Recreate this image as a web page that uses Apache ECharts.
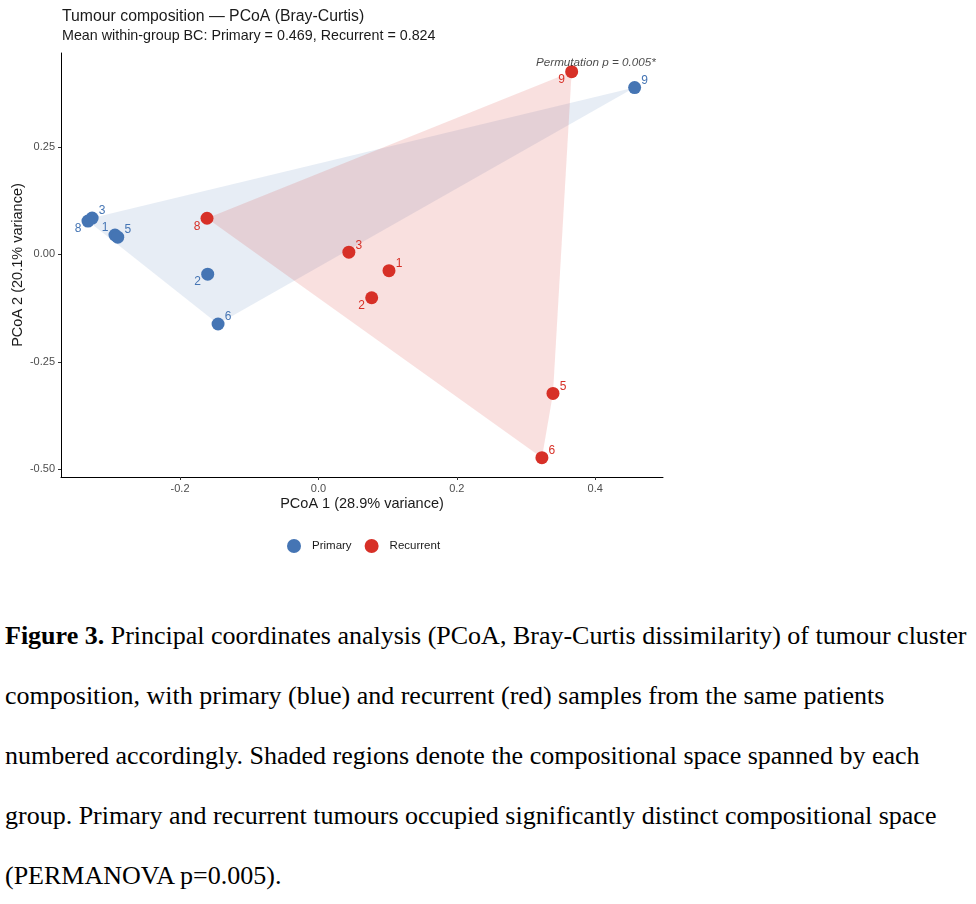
<!DOCTYPE html>
<html>
<head>
<meta charset="utf-8">
<script src="https://cdn.jsdelivr.net/npm/echarts@6/dist/echarts.min.js"></script>
<style>
  body { margin: 0; background: #fff; }
  #chart { position: absolute; left: 0; top: 0; width: 976px; height: 580px; }
  #caption {
    position: absolute; left: 5px; top: 606px; width: 970px;
    font-family: "Liberation Serif", "Times New Roman", serif;
    font-size: 26px; line-height: 60px; color: #000; white-space: nowrap;
  }
</style>
</head>
<body>
<div id="chart"></div>
<div id="caption"><b>Figure 3.</b> Principal coordinates analysis (PCoA, Bray-Curtis dissimilarity) of tumour cluster<br>composition, with primary (blue) and recurrent (red) samples from the same patients<br>numbered accordingly. Shaded regions denote the compositional space spanned by each<br>group. Primary and recurrent tumours occupied significantly distinct compositional space<br>(PERMANOVA p=0.005).</div>
<script>
// échantillons (patients) et coordonnées PCoA
const sampleIds = ["1", "2", "3", "5", "6", "8", "9"];
const primaryX = [-0.294, -0.160, -0.327, -0.290, -0.145, -0.333, 0.457];
const primaryY = [0.045, -0.046, 0.0845, 0.040, -0.162, 0.0775, 0.388];
const recurrentX = [0.102, 0.077, 0.044, 0.339, 0.323, -0.161, 0.366];
const recurrentY = [-0.038, -0.101, 0.005, -0.3235, -0.473, 0.084, 0.425];

const xTicks = [-0.2, 0.0, 0.2, 0.4];
const yTicks = [-0.5, -0.25, 0.0, 0.25];
const xTickLabels = ["-0.2", "0.0", "0.2", "0.4"];
const yTickLabels = ["-0.50", "-0.25", "0.00", "0.25"];

const permutationText = "Permutation p = 0.005*";
const permutationAt = [0.401, 0.445];

const COLORS = { Primary: "#4575b4", Recurrent: "#d73027" };
const FONT = "Liberation Sans, Arial, sans-serif";

// placement des numéros (par défaut : en haut à droite du point)
const LABEL_LOW_LEFT = { Primary: ["8", "2"], Recurrent: ["8", "2", "9"] };
const LABEL_UP_LEFT = { Primary: ["1"], Recurrent: [] };

function toPoints(xs, ys) {
  return xs.map((x, i) => [x, ys[i], sampleIds[i]]);
}

// enveloppe convexe (monotone chain)
function convexHull(pts) {
  const p = pts.map(d => [d[0], d[1]]).sort((a, b) => a[0] - b[0] || a[1] - b[1]);
  const cross = (o, a, b) => (a[0] - o[0]) * (b[1] - o[1]) - (a[1] - o[1]) * (b[0] - o[0]);
  const lower = [];
  for (const pt of p) {
    while (lower.length >= 2 && cross(lower[lower.length - 2], lower[lower.length - 1], pt) <= 0) lower.pop();
    lower.push(pt);
  }
  const upper = [];
  for (let i = p.length - 1; i >= 0; i--) {
    const pt = p[i];
    while (upper.length >= 2 && cross(upper[upper.length - 2], upper[upper.length - 1], pt) <= 0) upper.pop();
    upper.push(pt);
  }
  upper.pop(); lower.pop();
  return lower.concat(upper);
}

function hullSeries(name, pts, opacity) {
  const hull = convexHull(pts);
  return {
    type: "custom",
    name: name + "-hull",
    silent: true,
    z: 1,
    data: hull,
    encode: { x: 0, y: 1 },
    renderItem: (params, api) => {
      if (params.dataIndex !== 0) return null;
      const poly = hull.map(h => api.coord(h));
      return {
        type: "polygon",
        shape: { points: poly },
        style: { fill: COLORS[name], opacity: opacity }
      };
    }
  };
}

function labelOffset(name, id) {
  if (LABEL_LOW_LEFT[name].includes(id)) return [-10, 8];
  if (LABEL_UP_LEFT[name].includes(id)) return [-10, -7];
  return [10, -7];
}

function pointSeries(name, pts) {
  return {
    type: "scatter",
    name: name,
    z: 3,
    symbolSize: 13,
    itemStyle: { color: COLORS[name], opacity: 1 },
    data: pts.map(p => ({
      value: [p[0], p[1]],
      name: p[2],
      label: { offset: labelOffset(name, p[2]) }
    })),
    label: {
      show: true,
      position: "inside",
      formatter: "{b}",
      color: COLORS[name],
      fontFamily: FONT,
      fontSize: 12,
      align: "center",
      verticalAlign: "middle"
    },
    emphasis: { disabled: true }
  };
}

const chart = echarts.init(document.getElementById("chart"), null, { renderer: "canvas" });

const primaryPts = toPoints(primaryX, primaryY);
const recurrentPts = toPoints(recurrentX, recurrentY);

chart.setOption({
  animation: false,
  backgroundColor: "#fff",
  title: {
    text: "Tumour composition — PCoA (Bray-Curtis)",
    subtext: "Mean within-group BC: Primary = 0.469, Recurrent = 0.824",
    left: 57,
    top: 4,
    itemGap: 4,
    textStyle: { fontFamily: FONT, fontSize: 15.8, fontWeight: "normal", color: "#1a1a1a" },
    subtextStyle: { fontFamily: FONT, fontSize: 14.3, color: "#1a1a1a" }
  },
  grid: { left: 61, top: 53, width: 602, height: 424, containLabel: false, outerBoundsMode: "none" },
  legend: {
    top: 534,
    left: 282,
    data: ["Primary", "Recurrent"],
    icon: "circle",
    itemWidth: 14,
    itemHeight: 14,
    itemGap: 13,
    textStyle: { fontFamily: FONT, fontSize: 11.5, color: "#1a1a1a", padding: [0, 0, 0, 6] }
  },
  xAxis: {
    type: "value",
    min: -0.372,
    max: 0.498,
    name: "PCoA 1 (28.9% variance)",
    nameLocation: "middle",
    nameGap: 19,
    nameMoveOverlap: false,
    nameTextStyle: { fontFamily: FONT, fontSize: 14.5, color: "#1a1a1a" },
    axisLine: { show: true, onZero: false, lineStyle: { color: "#000", width: 1 } },
    axisTick: { show: true, length: 3, customValues: xTicks, lineStyle: { color: "#333" } },
    axisLabel: {
      customValues: xTicks,
      formatter: v => xTickLabels[xTicks.findIndex(t => Math.abs(t - v) < 1e-9)],
      fontFamily: FONT, fontSize: 11, color: "#4d4d4d", margin: 6
    },
    splitLine: { show: false }
  },
  yAxis: {
    type: "value",
    min: -0.518,
    max: 0.4685,
    name: "PCoA 2 (20.1% variance)",
    nameLocation: "middle",
    nameGap: 36,
    nameMoveOverlap: false,
    nameTextStyle: { fontFamily: FONT, fontSize: 14.5, color: "#1a1a1a" },
    axisLine: { show: true, onZero: false, lineStyle: { color: "#000", width: 1 } },
    axisTick: { show: true, length: 3, customValues: yTicks, lineStyle: { color: "#333" } },
    axisLabel: {
      customValues: yTicks,
      formatter: v => yTickLabels[yTicks.findIndex(t => Math.abs(t - v) < 1e-9)],
      fontFamily: FONT, fontSize: 11, color: "#4d4d4d", margin: 6
    },
    splitLine: { show: false }
  },
  series: [
    hullSeries("Primary", primaryPts, 0.13),
    hullSeries("Recurrent", recurrentPts, 0.15),
    pointSeries("Primary", primaryPts),
    pointSeries("Recurrent", recurrentPts),
    {
      type: "scatter",
      name: "permutation",
      symbolSize: 0,
      silent: true,
      z: 4,
      data: [{ value: permutationAt, name: permutationText }],
      label: {
        show: true,
        position: "inside",
        formatter: "{b}",
        fontFamily: FONT,
        fontSize: 11.7,
        fontStyle: "italic",
        color: "#1a1a1a"
      }
    }
  ]
});
</script>
</body>
</html>
